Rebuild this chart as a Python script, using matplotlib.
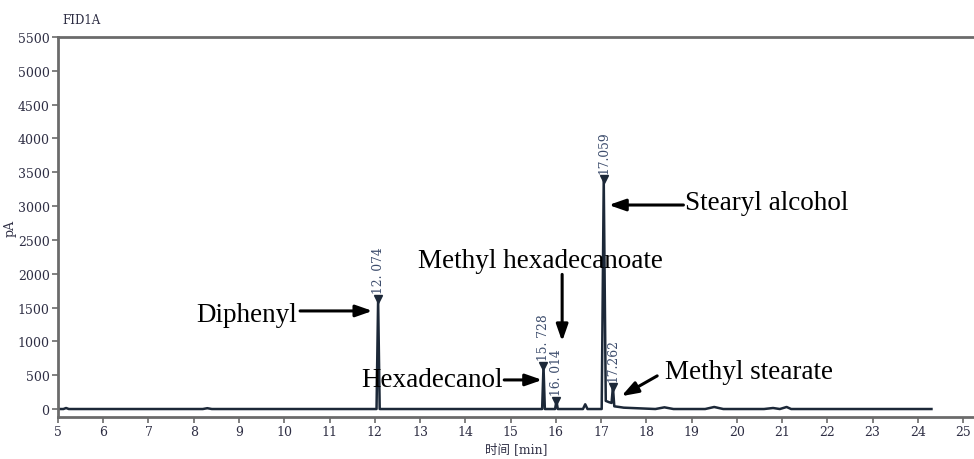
import numpy as np
import matplotlib.pyplot as plt

# Retention times (min) and heights (pA) of the labelled peaks
peak_times = [12.074, 15.728, 16.014, 17.059, 17.262]
peak_heights = [1620, 640, 120, 3400, 330]
peak_labels = ['12. 074', '15. 728', '16. 014', '17.059', '17.262']
peak_half_width = [0.035, 0.03, 0.03, 0.045, 0.03]
# signal level at the left / right foot of each peak
peak_left_base = [0, 0, 0, 0, 90]
peak_right_base = [0, 0, 0, 120, 40]

# Baseline and small unlabelled bumps
base_time = [5.0, 5.12, 5.18, 5.24, 8.2, 8.3, 8.4, 16.6, 16.65, 16.7, 17.18,
             17.4, 17.5, 18.2, 18.4, 18.6, 19.3, 19.5, 19.7, 20.6, 20.8, 20.95,
             21.1, 21.2, 24.3]
base_signal = [0, 0, 15, 0, 0, 12, 0, 0, 70, 0, 100,
               30, 20, 0, 25, 0, 0, 30, 0, 0, 15, 0,
               30, 0, 0]

# annotation text, text position, arrow tail, arrow head (data coords)
annotations = [
    ('Diphenyl', (10.28, 1400), (10.35, 1450), (11.95, 1450), 'right'),
    ('Methyl hexadecanoate', (12.95, 2190), (16.14, 1990), (16.14, 1000), 'left'),
    ('Hexadecanol', (14.83, 430), (14.86, 430), (15.70, 430), 'right'),
    ('Stearyl alcohol', (18.86, 3046), (18.82, 3016), (17.17, 3016), 'left'),
    ('Methyl stearate', (18.41, 550), (18.24, 490), (17.45, 190), 'left'),
]

# assemble the trace from baseline points and peak apexes
pts = list(zip(base_time, base_signal))
for t, h, w, lb, rb in zip(peak_times, peak_heights, peak_half_width,
                           peak_left_base, peak_right_base):
    pts += [(t - w, lb), (t, h), (t + w, rb)]
pts.sort()
trace_t = np.array([p[0] for p in pts])
trace_y = np.array([p[1] for p in pts])

plt.rcParams['font.family'] = ['DejaVu Serif', 'Noto Sans CJK SC']
fig = plt.figure(figsize=(9.74, 4.6), dpi=100)
ax = fig.add_axes([0.0595, 0.0913, 0.9405, 0.8261])

spine_col = '#6b6b6b'
txt_col = '#2e2e44'
ax.plot(trace_t, trace_y, color='#1c2838', lw=1.8)

for t, h, lab in zip(peak_times, peak_heights, peak_labels):
    ax.plot(t, h, marker='v', color='#1c2838', ms=6)
    ax.text(t, h + 90, lab, rotation=90, ha='center', va='bottom',
            fontsize=8.8, color='#3c4c6c')

for text, tpos, tail, head, side in annotations:
    ax.text(tpos[0], tpos[1], text, family='Liberation Serif', fontsize=19.5,
            ha=side, va='center', color='black')
    ax.annotate('', xy=head, xytext=tail,
                arrowprops=dict(arrowstyle='-|>,head_length=1.0,head_width=0.35',
                                color='black', lw=2.2, shrinkA=0, shrinkB=0))

ax.set_xlim(5, 25.24)
ax.set_ylim(-118, 5500)
ax.set_xticks(range(5, 26))
ax.set_yticks(range(0, 5501, 500))
ax.spines['right'].set_visible(False)
for s in ['left', 'top', 'bottom']:
    ax.spines[s].set_color(spine_col)
    ax.spines[s].set_linewidth(2)
ax.tick_params(axis='both', direction='out', length=4, width=1.2, color=spine_col,
               labelsize=9, labelcolor=txt_col, pad=2)

fig.text(0.064, 0.955, 'FID1A', fontsize=8.5, color=txt_col, va='center')
ax.set_ylabel('pA', fontsize=9, color=txt_col, labelpad=-2)
ax.yaxis.set_label_coords(-0.045, 0.5)
ax.set_xlabel('时间 [min]', fontsize=9, color=txt_col, labelpad=3)

fig.savefig('out.png', dpi=100)
